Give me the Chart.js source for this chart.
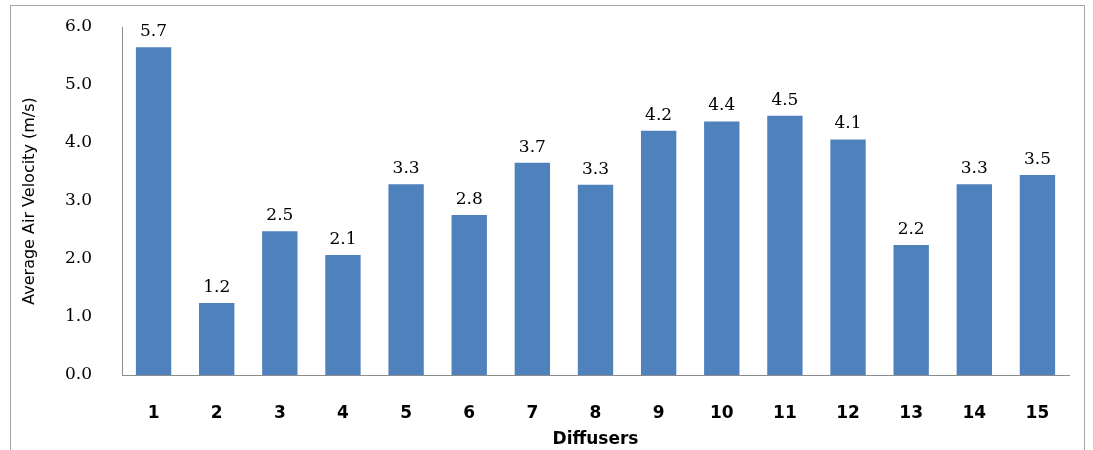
<!DOCTYPE html>
<html>
<head>
<meta charset="utf-8">
<script src="https://cdn.jsdelivr.net/npm/chart.js@4"></script>
<style>
  html, body { margin: 0; padding: 0; background: #fff; }
  #wrap { position: relative; width: 1093px; height: 450px; overflow: hidden; }
  #frame { position: absolute; left: 10px; top: 5px; width: 1075px; height: 470px; border: 1px solid #a6a6a6; box-sizing: border-box; }
  canvas { position: absolute; left: 0; top: 0; }
</style>
</head>
<body>
<div id="wrap">
  <div id="frame"></div>
  <canvas id="chart" width="1093" height="450"></canvas>
</div>
<script>
// diffuser numbers and measured average velocity
const diffusers = ["1", "2", "3", "4", "5", "6", "7", "8", "9", "10", "11", "12", "13", "14", "15"];
const velocity = [5.65, 1.24, 2.48, 2.07, 3.29, 2.76, 3.66, 3.28, 4.21, 4.37, 4.47, 4.06, 2.24, 3.29, 3.45];
const yTicks = [0, 1, 2, 3, 4, 5, 6];

// value labels above each bar
const barLabels = {
    id: "barLabels",
    afterDatasetsDraw(chart) {
        const ctx = chart.ctx;
        const meta = chart.getDatasetMeta(0);
        ctx.save();
        ctx.font = "17px 'DejaVu Serif'";
        ctx.fillStyle = "#000";
        ctx.textAlign = "center";
        ctx.textBaseline = "bottom";
        meta.data.forEach((bar, i) => {
            ctx.fillText(velocity[i].toFixed(1), bar.x, bar.y - 7);
        });
        ctx.restore();
    }
};

new Chart(document.getElementById("chart").getContext("2d"), {
    type: "bar",
    data: {
        labels: diffusers,
        datasets: [{
            data: velocity,
            backgroundColor: "#4f81bd",
            categoryPercentage: 1,
            barPercentage: 0.56
        }]
    },
    options: {
        responsive: false,
        animation: false,
        layout: { padding: { left: 20, top: 27, right: 24, bottom: 0 } },
        plugins: { legend: { display: false }, tooltip: { enabled: false } },
        scales: {
            x: {
                grid: { display: false },
                border: { display: true, color: "#8c8c8c", width: 1 },
                ticks: { color: "#000", font: { family: "DejaVu Sans", size: 17, weight: "bold" }, padding: 20 },
                title: { display: true, text: "Diffusers", color: "#000", font: { family: "DejaVu Sans", size: 17, weight: "bold" }, padding: { top: 4, bottom: 0 } },
                afterFit(scale) { scale.height = 75; scale.paddingLeft = 0; scale.paddingRight = 0; }
            },
            y: {
                min: 0,
                max: 6,
                afterBuildTicks(scale) { scale.ticks = yTicks.map(v => ({ value: v })); },
                grid: { display: false },
                border: { display: true, color: "#8c8c8c", width: 1 },
                ticks: {
                    color: "#000",
                    font: { family: "DejaVu Serif", size: 17 },
                    padding: 22,
                    callback: v => v.toFixed(1)
                },
                title: { display: true, text: "Average Air Velocity (m/s)", color: "#000", font: { family: "DejaVu Sans", size: 16 }, padding: { top: 0, bottom: 0 } },
                afterFit(scale) { scale.width = 102; scale.paddingTop = 0; scale.paddingBottom = 0; }
            }
        }
    },
    plugins: [barLabels]
});
</script>
</body>
</html>
